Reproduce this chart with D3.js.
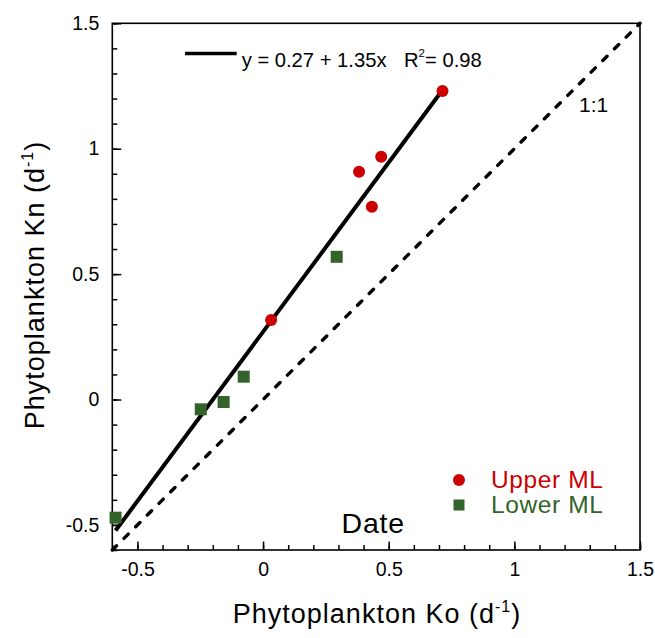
<!DOCTYPE html>
<html>
<head>
<meta charset="utf-8">
<script src="https://cdn.jsdelivr.net/npm/d3@7"></script>
<style>
  html, body { margin: 0; padding: 0; background: #fff; }
  svg { display: block; font-family: "Liberation Sans", Arial, Helvetica, sans-serif; }
</style>
</head>
<body>
<svg id="chart" width="655" height="638"></svg>
<script>
// ---- data ----
const upperKo = [0.714, 0.470, 0.382, 0.433, 0.032];
const upperKn = [1.230, 0.968, 0.908, 0.769, 0.317];
const lowerKo = [0.293, -0.077, -0.157, -0.248, -0.587];
const lowerKn = [0.569, 0.091, -0.010, -0.039, -0.471];
const fitIntercept = 0.27;
const fitSlope = 1.35;
const axisDomain = [-0.6, 1.5];
const majorTicks = [-0.5, 0, 0.5, 1, 1.5];
const tickLabels = ["-0.5", "0", "0.5", "1", "1.5"];
const minorTicks = d3.range(-6, 16).map(i => i / 10);

const red = "#cc0000", green = "#33622a";

const svg = d3.select("#chart");
const x = d3.scaleLinear().domain(axisDomain).range([112.3, 640]);
const y = d3.scaleLinear().domain(axisDomain).range([550, 23.3]);
const fmt = d => tickLabels[majorTicks.indexOf(d)];

// frame
svg.append("rect")
  .attr("x", x(axisDomain[0])).attr("y", y(axisDomain[1]))
  .attr("width", x(axisDomain[1]) - x(axisDomain[0]))
  .attr("height", y(axisDomain[0]) - y(axisDomain[1]))
  .attr("fill", "none").attr("stroke", "#000").attr("stroke-width", 1.6);

// axes
function styleAxis(g) {
  g.select(".domain").remove();
  g.selectAll(".tick line").attr("stroke", "#000").attr("stroke-width", 1.5);
  g.selectAll(".tick text").attr("fill", "#000").attr("font-size", 19.5)
    .attr("font-family", "'Liberation Sans', Arial, Helvetica, sans-serif");
}
svg.append("g").attr("transform", `translate(0,${y(axisDomain[0])})`)
  .call(d3.axisBottom(x).tickValues(minorTicks).tickSize(-5).tickFormat(""))
  .call(styleAxis);
svg.append("g").attr("transform", `translate(0,${y(axisDomain[0])})`)
  .call(d3.axisBottom(x).tickValues(majorTicks).tickSize(-8.5).tickPadding(12).tickFormat(fmt))
  .call(styleAxis);
svg.append("g").attr("transform", `translate(${x(axisDomain[0])},0)`)
  .call(d3.axisLeft(y).tickValues(minorTicks).tickSize(-5).tickFormat(""))
  .call(styleAxis);
svg.append("g").attr("transform", `translate(${x(axisDomain[0])},0)`)
  .call(d3.axisLeft(y).tickValues(majorTicks).tickSize(-9).tickPadding(13).tickFormat(fmt))
  .call(styleAxis);

// 1:1 line
svg.append("line")
  .attr("x1", x(axisDomain[0])).attr("y1", y(axisDomain[0]))
  .attr("x2", x(axisDomain[1])).attr("y2", y(axisDomain[1]))
  .attr("stroke", "#000").attr("stroke-width", 3.4)
  .attr("stroke-dasharray", "6 10.5").attr("stroke-linecap", "round");

// regression line over the data range
const allKo = upperKo.concat(lowerKo);
const xmin = d3.min(allKo), xmax = d3.max(allKo);
svg.append("line")
  .attr("x1", x(xmin)).attr("y1", y(fitIntercept + fitSlope * xmin))
  .attr("x2", x(xmax)).attr("y2", y(fitIntercept + fitSlope * xmax))
  .attr("stroke", "#000").attr("stroke-width", 4);

// points
const sq = 12;
svg.append("g").selectAll("rect").data(lowerKo.map((v, i) => [v, lowerKn[i]]))
  .join("rect")
  .attr("x", d => x(d[0]) - sq / 2).attr("y", d => y(d[1]) - sq / 2)
  .attr("width", sq).attr("height", sq).attr("fill", green);
svg.append("g").selectAll("circle").data(upperKo.map((v, i) => [v, upperKn[i]]))
  .join("circle")
  .attr("cx", d => x(d[0])).attr("cy", d => y(d[1])).attr("r", 6).attr("fill", red);

// equation legend
svg.append("line").attr("x1", 185).attr("x2", 236.7).attr("y1", 53.5).attr("y2", 53.5)
  .attr("stroke", "#000").attr("stroke-width", 3.4);
svg.append("text").attr("x", 241.7).attr("y", 66.5).attr("font-size", 20.2)
  .text("y = 0.27 + 1.35x");
svg.append("text").attr("x", 404).attr("y", 66.5).attr("font-size", 20.2).text("R");
svg.append("text").attr("x", 418.5).attr("y", 57).attr("font-size", 11.5).text("2");
svg.append("text").attr("x", 425).attr("y", 66.5).attr("font-size", 20.2).text("= 0.98");

// 1:1 label
svg.append("text").attr("x", 579).attr("y", 111.7).attr("font-size", 21).text("1:1");

// Date label
svg.append("text").attr("x", 341.5).attr("y", 533.3).attr("font-size", 28.5)
  .attr("letter-spacing", 0.8).text("Date");

// series legend
svg.append("circle").attr("cx", 459).attr("cy", 480).attr("r", 6).attr("fill", red);
svg.append("rect").attr("x", 453.5).attr("y", 499.5).attr("width", 11).attr("height", 11).attr("fill", green);
svg.append("text").attr("x", 491).attr("y", 488.3).attr("font-size", 24.5)
  .attr("letter-spacing", 0.6).attr("fill", red).text("Upper ML");
svg.append("text").attr("x", 491).attr("y", 513.3).attr("font-size", 24.5)
  .attr("letter-spacing", 0.6).attr("fill", green).text("Lower ML");

// axis titles
function title(sel, main) {
  sel.attr("font-size", 27).attr("letter-spacing", 1).attr("text-anchor", "middle");
  sel.append("tspan").text(main);
  sel.append("tspan").attr("font-size", 16).attr("dy", -11).text("-1");
  sel.append("tspan").attr("dy", 11).text(")");
}
svg.append("text").attr("x", 377).attr("y", 623.3)
  .call(title, "Phytoplankton Ko (d");
svg.append("text").attr("transform", "translate(43.5,285) rotate(-90)")
  .call(title, "Phytoplankton Kn (d");
</script>
</body>
</html>
